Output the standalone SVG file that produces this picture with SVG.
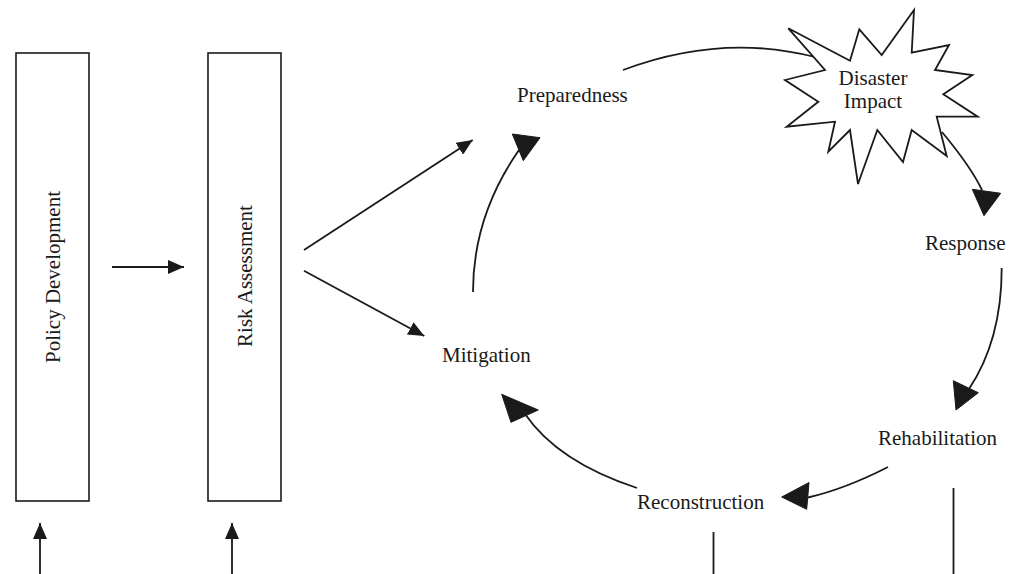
<svg xmlns="http://www.w3.org/2000/svg" width="1019" height="574" viewBox="0 0 1019 574">
  <defs>
    <style>
      .lbl { font-family: "Liberation Serif", "Times New Roman", serif; font-size: 21px; fill: #1a1a1a; }
      .box { fill: #ffffff; stroke: #1a1a1a; stroke-width: 1.6; }
      .ln { fill: none; stroke: #1a1a1a; stroke-width: 1.8; }
      .head { fill: #1a1a1a; stroke: #1a1a1a; stroke-width: 1; stroke-linejoin: miter; }
      .star { fill: #ffffff; stroke: #1a1a1a; stroke-width: 1.8; stroke-linejoin: miter; }
    </style>
    <marker id="sm" viewBox="0 0 16 14" refX="16" refY="7" markerWidth="16" markerHeight="14" markerUnits="userSpaceOnUse" orient="auto">
      <path d="M0,0 L16,7 L0,14 z" fill="#1a1a1a"/>
    </marker>
  </defs>
  <rect width="1019" height="574" fill="#ffffff"/>

  <g id="connectors">
    <line class="ln" x1="112" y1="267" x2="184" y2="267" marker-end="url(#sm)"/>
    <line class="ln" x1="40" y1="574" x2="40" y2="523" marker-end="url(#sm)"/>
    <line class="ln" x1="232" y1="574" x2="232" y2="523" marker-end="url(#sm)"/>
    <line class="ln" x1="304" y1="250" x2="472.7" y2="140" marker-end="url(#sm)"/>
    <line class="ln" x1="304" y1="270.7" x2="424.3" y2="336" marker-end="url(#sm)"/>

    <path class="ln" d="M473,292 Q473,216 519,150"/>
    <polygon class="head" points="512.3,134 540,137.7 523.3,160.7"/>

    <path class="ln" d="M623,70 Q721,33 815,57"/>

    <path class="ln" d="M942,132 Q971,167 982,190"/>
    <polygon class="head" points="972.3,189.3 1000.7,193.3 984,215.7"/>

    <path class="ln" d="M1001.7,268 Q1001.7,340 969,389"/>
    <polygon class="head" points="953.3,380.7 978.3,392.7 956,410"/>

    <path class="ln" d="M888,467 Q845,489 808,497.5"/>
    <polygon class="head" points="781.7,497 809,482.5 806.7,509.3"/>

    <path class="ln" d="M637,488 Q558,462 525,414"/>
    <polygon class="head" points="501.7,394.3 538.3,410 511,422.3"/>

    <line class="ln" x1="713.5" y1="532" x2="713.5" y2="574"/>
    <line class="ln" x1="953.5" y1="488" x2="953.5" y2="574"/>
  </g>

  <g id="policy-development">
    <rect class="box" x="16" y="53" width="73" height="448"/>
    <text class="lbl" x="0" y="0" text-anchor="middle" dominant-baseline="central" transform="translate(53,277) rotate(-90)">Policy Development</text>
  </g>

  <g id="risk-assessment">
    <rect class="box" x="208" y="53" width="73" height="448"/>
    <text class="lbl" x="0" y="0" text-anchor="middle" dominant-baseline="central" transform="translate(245,276) rotate(-90)">Risk Assessment</text>
  </g>

  <g id="preparedness">
    <text class="lbl" x="517" y="102">Preparedness</text>
  </g>

  <g id="mitigation">
    <text class="lbl" x="442" y="362">Mitigation</text>
  </g>

  <g id="disaster-impact">
    <polygon class="star" points="788.3,28.3 850,60.7 859.3,29.3 881.7,55 914,10 911.7,52.7 949,45 935,70 972.3,75 943.3,94.3 977.7,116.7 936.7,116.7 946.7,156 911.7,130 903,162 877.3,130 858,184 850,130 828.3,151.7 835,121.7 786.7,126.7 818.3,101.7 785,80 825,70"/>
    <text class="lbl" x="873" y="85" text-anchor="middle">Disaster</text>
    <text class="lbl" x="873" y="108" text-anchor="middle">Impact</text>
  </g>

  <g id="response">
    <text class="lbl" x="925" y="250">Response</text>
  </g>

  <g id="rehabilitation">
    <text class="lbl" x="878" y="445">Rehabilitation</text>
  </g>

  <g id="reconstruction">
    <text class="lbl" x="637" y="509">Reconstruction</text>
  </g>
</svg>
